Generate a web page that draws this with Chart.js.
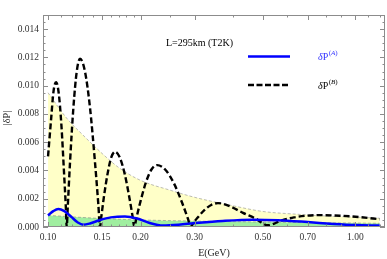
<!DOCTYPE html>
<html>
<head>
<meta charset="utf-8">
<script src="https://cdn.jsdelivr.net/npm/chart.js@4.4.0/dist/chart.umd.min.js"></script>
<style>
  html, body { margin: 0; padding: 0; background: #fff; }
  #wrap { width: 387px; height: 259px; }
</style>
</head>
<body>
<div id="wrap"><canvas id="lineChart" width="387" height="259"></canvas></div>
<script>
// tick labels
const xTicks = [0.10, 0.15, 0.20, 0.30, 0.50, 0.70, 1.00];
const yTicks = [0.000, 0.002, 0.004, 0.006, 0.008, 0.010, 0.012, 0.014];

// dP(B), black dashed
const dashE = [0.1000, 0.1023, 0.1042, 0.1062, 0.1083, 0.1105, 0.1127, 0.1143, 0.1150,
  0.1160, 0.1179, 0.1209, 0.1240, 0.1271, 0.1319, 0.1370, 0.1422, 0.1458, 0.1476,
  0.1490, 0.1518, 0.1562, 0.1606, 0.1652, 0.1712, 0.1776, 0.1841, 0.1886, 0.1909,
  0.1936, 0.1992, 0.2078, 0.2168, 0.2263, 0.2409, 0.2567, 0.2735, 0.2854, 0.2912,
  0.2963, 0.3064, 0.3226, 0.3396, 0.3573, 0.3924, 0.4309, 0.4732, 0.5196,
  0.5728, 0.6313, 0.6959, 0.7671, 0.8911, 1.0351, 1.2000];
const dashP = [0.00500, 0.00760, 0.00960, 0.01025, 0.00950, 0.00725, 0.00390, 0.00135, 0.00000,
  0.00155, 0.00456, 0.00841, 0.01100, 0.01190, 0.01100, 0.00841, 0.00456, 0.00158, 0.00000,
  0.00069, 0.00204, 0.00376, 0.00492, 0.00532, 0.00492, 0.00376, 0.00204, 0.00070, 0.00000,
  0.00057, 0.00168, 0.00310, 0.00405, 0.00438, 0.00405, 0.00310, 0.00168, 0.00057, 0.00000,
  0.00025, 0.00065, 0.00119, 0.00156, 0.00169, 0.00145, 0.00100, 0.00060, 0.00012,
  0.00045, 0.00068, 0.00080, 0.00084, 0.00080, 0.00070, 0.00055];

// dP(A), blue solid
const solidE = [0.100, 0.104, 0.108, 0.113, 0.119, 0.125, 0.1303, 0.137, 0.147, 0.160, 0.178,
  0.195, 0.213, 0.2366, 0.27, 0.31, 0.37, 0.464, 0.56, 0.70, 0.85, 1.00, 1.20];
const solidP = [0.00082, 0.00112, 0.00127, 0.00112, 0.00072, 0.00032, 0.00016, 0.00025, 0.00048,
  0.00068, 0.00075, 0.00060, 0.00030, 0.00010, 0.00017, 0.00030, 0.00043, 0.00052, 0.00048,
  0.00035, 0.00022, 0.00014, 0.00010];

// shaded bands
const bandBE = [0.100, 0.115, 0.13, 0.15, 0.17, 0.20, 0.25, 0.30, 0.40, 0.50, 0.65, 0.85, 1.00, 1.20];
const bandBP = [0.0095, 0.0077, 0.0065, 0.0052, 0.0042, 0.0033, 0.0026, 0.0021, 0.0015, 0.0011,
  0.0009, 0.00075, 0.0007, 0.00062];
const bandAE = [0.10, 0.15, 0.20, 0.30, 0.50, 0.70, 1.00, 1.20];
const bandAP = [0.00082, 0.0006, 0.0005, 0.00042, 0.00035, 0.00031, 0.00028, 0.00026];

const toPts = (xs, ys) => xs.map((x, i) => ({ x: x, y: ys[i] }));

const SERIF = '"Liberation Serif", "DejaVu Serif", serif';

function drawDeltaP(ctx, x, y, sup, color) {
    ctx.fillStyle = color;
    ctx.textAlign = 'left';
    ctx.textBaseline = 'alphabetic';
    ctx.font = 'italic 10px ' + SERIF;
    ctx.fillText('\u03b4', x, y);
    let w = ctx.measureText('\u03b4').width;
    ctx.font = '10px ' + SERIF;
    ctx.fillText('P', x + w, y);
    w += ctx.measureText('P').width + 0.5;
    ctx.font = '7px ' + SERIF;
    ctx.fillText('(', x + w, y - 5);
    w += ctx.measureText('(').width;
    ctx.font = 'italic 7px ' + SERIF;
    ctx.fillText(sup, x + w, y - 5);
    w += ctx.measureText(sup).width;
    ctx.font = '7px ' + SERIF;
    ctx.fillText(')', x + w, y - 5);
}

const framePlugin = {
    id: 'frame',
    afterDraw(chart) {
        const { ctx, chartArea: a, scales } = chart;
        const xs = scales.x, ys = scales.y;
        ctx.save();
        ctx.strokeStyle = '#8c8c8c';
        ctx.lineWidth = 1;
        ctx.setLineDash([]);
        ctx.strokeRect(a.left + 0.5, a.top + 0.5, a.right - a.left - 1, a.bottom - a.top - 1);

        ctx.beginPath();
        // y ticks, minor every 0.0005
        for (let i = 0; i <= 30; i++) {
            const py = Math.round(ys.getPixelForValue(i * 0.0005)) + 0.5;
            const len = i % 4 === 0 ? 5 : 2.5;
            ctx.moveTo(a.left, py); ctx.lineTo(a.left + len, py);
            ctx.moveTo(a.right, py); ctx.lineTo(a.right - len, py);
        }
        // x ticks
        const minor = [0.11, 0.12, 0.13, 0.14, 0.16, 0.17, 0.18, 0.19, 0.25, 0.4, 0.6, 0.8, 0.9, 1.1, 1.2];
        xTicks.concat(minor).forEach(v => {
            const px = Math.round(xs.getPixelForValue(v)) + 0.5;
            const len = xTicks.includes(v) ? 5 : 2.5;
            ctx.moveTo(px, a.bottom); ctx.lineTo(px, a.bottom - len);
            ctx.moveTo(px, a.top); ctx.lineTo(px, a.top + len);
        });
        ctx.stroke();

        // annotation
        ctx.fillStyle = '#000';
        ctx.font = '10px ' + SERIF;
        ctx.textAlign = 'left';
        ctx.textBaseline = 'alphabetic';
        ctx.fillText('L=295km (T2K)', 166, 46);

        // legend
        ctx.lineWidth = 2.5;
        ctx.strokeStyle = '#0000ff';
        ctx.beginPath(); ctx.moveTo(248, 56.5); ctx.lineTo(290, 56.5); ctx.stroke();
        ctx.strokeStyle = '#000';
        ctx.setLineDash([6, 2.5]);
        ctx.beginPath(); ctx.moveTo(248, 85); ctx.lineTo(290, 85); ctx.stroke();
        ctx.setLineDash([]);
        drawDeltaP(ctx, 318, 60, 'A', '#3030ff');
        drawDeltaP(ctx, 318, 89, 'B', '#000');

        // axis titles
        ctx.fillStyle = '#222';
        ctx.font = '10px ' + SERIF;
        ctx.textAlign = 'center';
        ctx.textBaseline = 'middle';
        ctx.fillText('E(GeV)', 214, 253);
        ctx.save();
        ctx.translate(7, 118);
        ctx.rotate(-Math.PI / 2);
        ctx.fillText('|\u03b4P|', 0, 0);
        ctx.restore();
        ctx.restore();
    }
};

const ctx = document.getElementById('lineChart').getContext('2d');
new Chart(ctx, {
    type: 'line',
    data: {
        datasets: [
            {
                label: 'dPA',
                data: toPts(solidE, solidP),
                borderColor: '#0000ff',
                borderWidth: 2.5,
                cubicInterpolationMode: 'monotone',
                pointRadius: 0,
                fill: false,
                order: 1
            },
            {
                label: 'dPB',
                data: toPts(dashE, dashP),
                borderColor: '#000',
                borderWidth: 2.4,
                borderDash: [6, 3],
                cubicInterpolationMode: 'monotone',
                pointRadius: 0,
                fill: false,
                order: 2
            },
            {
                label: 'bandA',
                data: toPts(bandAE, bandAP),
                borderColor: 'rgba(140,140,140,0.8)',
                borderWidth: 0.8,
                borderDash: [3, 2],
                backgroundColor: 'rgb(160,238,160)',
                cubicInterpolationMode: 'monotone',
                pointRadius: 0,
                fill: 'origin',
                order: 3
            },
            {
                label: 'bandB',
                data: toPts(bandBE, bandBP),
                borderColor: 'rgba(150,150,150,0.8)',
                borderWidth: 0.8,
                borderDash: [3, 2],
                backgroundColor: 'rgb(255,255,200)',
                cubicInterpolationMode: 'monotone',
                pointRadius: 0,
                fill: 'origin',
                order: 4
            }
        ]
    },
    options: {
        responsive: false,
        animation: false,
        devicePixelRatio: 1,
        layout: { padding: { top: 15, right: 2, left: 0, bottom: 0 } },
        plugins: {
            legend: { display: false },
            tooltip: { enabled: false }
        },
        scales: {
            x: {
                type: 'logarithmic',
                min: 0.0963,
                max: 1.249,
                grid: { display: false, drawTicks: false },
                border: { display: false },
                afterBuildTicks: scale => { scale.ticks = xTicks.map(v => ({ value: v })); },
                afterFit: scale => { scale.height = 32; },
                ticks: {
                    autoSkip: false,
                    maxRotation: 0,
                    padding: 5,
                    color: '#333',
                    font: { family: SERIF, size: 9.5 },
                    callback: v => Number(v).toFixed(2)
                }
            },
            y: {
                min: 0,
                max: 0.015,
                grid: { display: false, drawTicks: false },
                border: { display: false },
                afterBuildTicks: scale => { scale.ticks = yTicks.map(v => ({ value: v })); },
                afterFit: scale => { scale.width = 43; },
                ticks: {
                    padding: 4,
                    color: '#333',
                    font: { family: SERIF, size: 9.5 },
                    callback: v => Number(v).toFixed(3)
                }
            }
        }
    },
    plugins: [framePlugin]
});
</script>
</body>
</html>
